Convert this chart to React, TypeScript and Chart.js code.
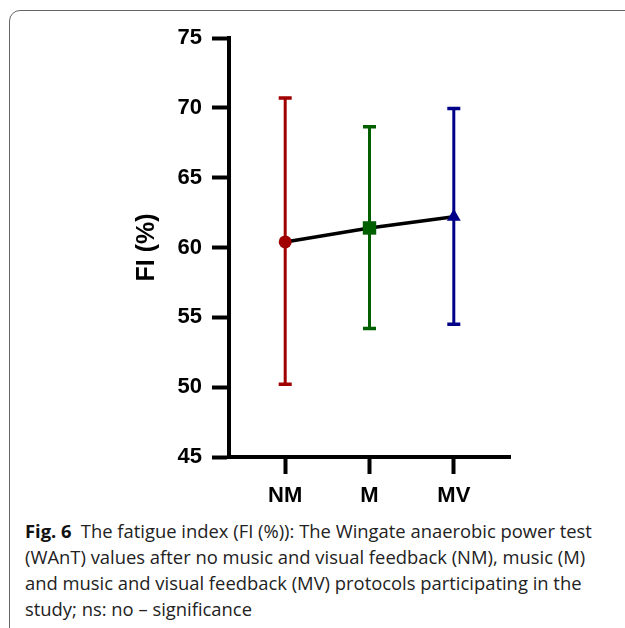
import React, { useEffect, useRef } from "react";
import { Chart, registerables } from "chart.js";

Chart.register(...registerables);

const categories = ["NM", "M", "MV"];
const means = [60.4, 61.4, 62.2];
const upper = [70.7, 68.65, 69.95];
const lower = [50.2, 54.2, 54.5];
const colors = ["#a00000", "#006000", "#000088"];
const markerStyles = ["circle", "rect", "triangle"];
const yTicks = [45, 50, 55, 60, 65, 70, 75];
const yTitle = "FI (%)";
const captionBold = "Fig. 6";
const captionLines = [
  "The fatigue index (FI (%)): The Wingate anaerobic power test",
  "(WAnT) values after no music and visual feedback (NM), music (M)",
  "and music and visual feedback (MV) protocols participating in the",
  "study; ns: no \u2013 significance",
];

const errorBarPlugin = {
  id: "errorBars",
  beforeDatasetsDraw(chart: any) {
    const { ctx, scales } = chart;
    const xs = scales.x;
    const ys = scales.y;
    ctx.save();
    categories.forEach((_, i) => {
      const x = xs.getPixelForValue(i);
      const yT = ys.getPixelForValue(upper[i]);
      const yB = ys.getPixelForValue(lower[i]);
      ctx.strokeStyle = colors[i];
      ctx.lineWidth = 3;
      ctx.beginPath();
      ctx.moveTo(x, yT);
      ctx.lineTo(x, yB);
      ctx.stroke();
      ctx.lineWidth = 3.5;
      ctx.beginPath();
      ctx.moveTo(x - 6.5, yT);
      ctx.lineTo(x + 6.5, yT);
      ctx.moveTo(x - 6.5, yB);
      ctx.lineTo(x + 6.5, yB);
      ctx.stroke();
    });
    ctx.restore();
  },
};

const labelFont = { family: "'Liberation Sans', Arial, sans-serif", size: 22, weight: "bold" as const };

export default function App() {
  const ref = useRef<HTMLCanvasElement | null>(null);

  useEffect(() => {
    if (!ref.current) return;
    const chart = new Chart(ref.current, {
      type: "scatter",
      data: {
        datasets: [
          {
            data: means.map((m, i) => ({ x: i, y: m })),
            showLine: true,
            borderColor: "#000000",
            borderWidth: 3.5,
            pointStyle: markerStyles as any,
            pointRadius: [6.5, 9.5, 8],
            pointBackgroundColor: colors,
            pointBorderColor: colors,
            pointBorderWidth: 0,
          },
        ],
      },
      options: {
        animation: false,
        responsive: false,
        events: [],
        layout: { padding: { left: 128, top: 38, right: 115, bottom: 0 } },
        plugins: { legend: { display: false }, tooltip: { enabled: false } },
        scales: {
          x: {
            type: "linear",
            min: -2 / 3,
            max: 8 / 3,
            afterBuildTicks: (s: any) => {
              s.ticks = categories.map((_, i) => ({ value: i }));
            },
            afterFit: (s: any) => {
              s.height = 53;
            },
            ticks: {
              callback: (v: any) => categories[v as number] ?? "",
              color: "#000",
              font: labelFont,
              padding: 9,
              maxRotation: 0,
            },
            grid: {
              drawOnChartArea: false,
              color: "#000",
              tickLength: 17,
              tickWidth: 4,
            },
            border: { color: "#000", width: 4 },
          },
          y: {
            min: 45,
            max: 75,
            afterBuildTicks: (s: any) => {
              s.ticks = yTicks.map((v) => ({ value: v }));
            },
            afterFit: (s: any) => {
              s.width = 101;
            },
            ticks: {
              color: "#000",
              font: labelFont,
              padding: 10,
            },
            grid: {
              drawOnChartArea: false,
              color: "#000",
              tickLength: 17,
              tickWidth: 4,
            },
            border: { color: "#000", width: 4 },
            title: {
              display: true,
              text: yTitle,
              color: "#000",
              font: { family: "'Liberation Sans', Arial, sans-serif", size: 25, weight: "bold" },
              padding: { top: 4, bottom: 4 },
            },
          },
        },
      },
      plugins: [errorBarPlugin],
    });
    return () => chart.destroy();
  }, []);

  return (
    <div
      style={{
        position: "absolute",
        left: 0,
        top: 0,
        width: 625,
        height: 628,
        overflow: "hidden",
        background: "#fff",
      }}
    >
      <div
        style={{
          position: "absolute",
          left: 9,
          top: 10,
          width: 700,
          height: 700,
          border: "1.5px solid #666",
          borderRadius: 11,
        }}
      />
      <canvas
        ref={ref}
        width={625}
        height={510}
        style={{ position: "absolute", left: 0, top: 0 }}
      />
      <div
        style={{
          position: "absolute",
          left: 25,
          top: 518,
          fontFamily: "'Open Sans', sans-serif",
          fontSize: 18.4,
          lineHeight: "26px",
          color: "#222",
          whiteSpace: "nowrap",
        }}
      >
        {captionLines.map((line, i) => (
          <div key={i}>
            {i === 0 ? (
              <>
                <b style={{ fontWeight: 700, color: "#111" }}>{captionBold}</b>
                {"\u2002" + line}
              </>
            ) : (
              line
            )}
          </div>
        ))}
      </div>
    </div>
  );
}
